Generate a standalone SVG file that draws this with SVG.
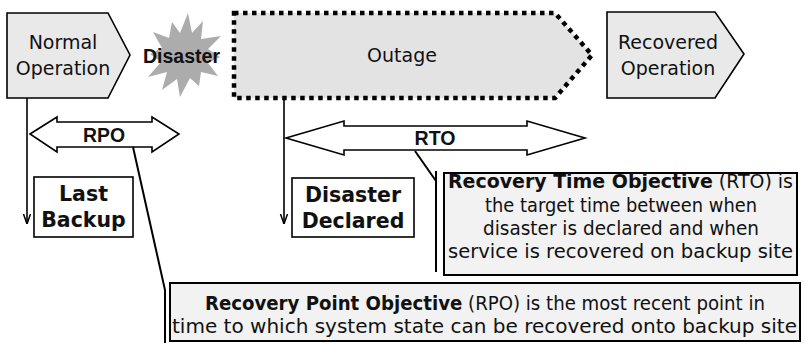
<svg xmlns="http://www.w3.org/2000/svg" width="804" height="343" viewBox="0 0 804 343">
<defs>
<style>
.phase{fill:#e9e9e9;stroke:#000;stroke-width:1.6}
.t{font-family:"DejaVu Sans",Verdana,sans-serif;font-size:19px;fill:#111;text-anchor:middle}
.b{font-weight:bold}
.bx{font-size:20.5px}
.lbl{font-family:"Liberation Sans",Arial,sans-serif;font-weight:bold;font-size:20px;fill:#111;text-anchor:middle}
.box{fill:#fff;stroke:#000;stroke-width:1.6}
.desc{fill:#f2f2f2;stroke:#000;stroke-width:2}
.ln{fill:none;stroke:#000;stroke-width:1.6}
.call{fill:none;stroke:#000;stroke-width:2}
.dbl{fill:#fff;stroke:#000;stroke-width:1.6;stroke-linejoin:miter}
</style>
<marker id="ah" viewBox="0 0 10 10" refX="10" refY="5" markerWidth="10" markerHeight="10" markerUnits="userSpaceOnUse" orient="auto">
<path d="M0,1.5 L10,5 L0,8.5" fill="none" stroke="#000" stroke-width="1.5"/>
</marker>
</defs>
<rect width="804" height="343" fill="#fff"/>

<g id="normal-operation">
<polygon class="phase" points="7,13 108,13 130,55 108,98 7,98"/>
<text class="t" x="63" y="49">Normal</text>
<text class="t" x="63" y="75">Operation</text>
</g>

<g id="disaster">
<polygon fill="#acacac" points="188,13 192,33 203,21 201,39 221,36 208,49 220,57 208,63 218,76 201,72 199,86 190,78 180,97 177,79 162,90 167,72 148,77 161,62 150,54 162,48 153,32 169,38 172,22 180,33"/>
<text class="lbl" x="181.5" y="63" textLength="77" lengthAdjust="spacingAndGlyphs">Disaster</text>
</g>

<g id="outage">
<polygon points="234,13 555,13 592,55 555,98 234,98" fill="#e3e3e3" stroke="#000" stroke-width="4.5" stroke-dasharray="4.5 4.5"/>
<text class="t" x="402" y="62">Outage</text>
</g>

<g id="recovered-operation">
<polygon class="phase" points="607,12 715,12 744,54 715,98 607,98"/>
<text class="t" x="668" y="49">Recovered</text>
<text class="t" x="668" y="75">Operation</text>
</g>

<g id="connectors">
<line class="ln" x1="27" y1="98" x2="27" y2="224" marker-end="url(#ah)"/>
<line class="ln" x1="284" y1="98" x2="284" y2="224" marker-end="url(#ah)"/>
<polyline class="call" points="133,147 165,290 165,343"/>
<line class="call" x1="415" y1="151" x2="436" y2="181"/>
<line class="call" x1="436" y1="171" x2="436" y2="272"/>
</g>

<g id="rpo">
<polygon class="dbl" points="30,134 57,117 57,122 152,122 152,117 179,134 152,152 152,147 57,147 57,152"/>
<text class="lbl" x="104" y="142" textLength="42" lengthAdjust="spacingAndGlyphs">RPO</text>
</g>

<g id="rto">
<polygon class="dbl" points="286,138 344,121 344,126 527,126 527,121 585,138 527,155 527,150 344,150 344,155"/>
<text class="lbl" x="435" y="145" textLength="41" lengthAdjust="spacingAndGlyphs">RTO</text>
</g>

<g id="last-backup">
<rect class="box" x="34" y="177" width="99" height="60"/>
<text class="t b bx" x="83.5" y="201">Last</text>
<text class="t b bx" x="83.5" y="227">Backup</text>
</g>

<g id="disaster-declared">
<rect class="box" x="292" y="178" width="122" height="59"/>
<text class="t b bx" x="353" y="202">Disaster</text>
<text class="t b bx" x="353" y="228">Declared</text>
</g>

<g id="rto-description">
<rect class="desc" x="444" y="173" width="353" height="102"/>
<text class="t" x="620.5" y="188" textLength="345" lengthAdjust="spacingAndGlyphs"><tspan class="b">Recovery Time Objective</tspan> (RTO) is</text>
<text class="t" x="621" y="211.5" textLength="272" lengthAdjust="spacingAndGlyphs">the target time between when</text>
<text class="t" x="621" y="234.5" textLength="276" lengthAdjust="spacingAndGlyphs">disaster is declared and when</text>
<text class="t" x="620.5" y="258" textLength="345" lengthAdjust="spacingAndGlyphs">service is recovered on backup site</text>
</g>

<g id="rpo-description">
<rect class="desc" x="170" y="283" width="630" height="58"/>
<text class="t" x="485" y="310" style="font-size:20px" textLength="560" lengthAdjust="spacingAndGlyphs"><tspan class="b">Recovery Point Objective</tspan> (RPO) is the most recent point in</text>
<text class="t" x="484.5" y="333" style="font-size:20px" textLength="625" lengthAdjust="spacingAndGlyphs">time to which system state can be recovered onto backup site</text>
</g>
</svg>
